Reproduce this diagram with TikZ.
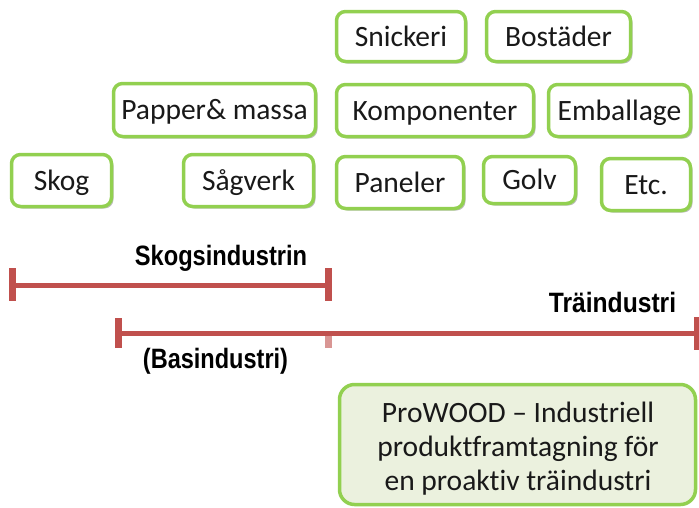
\documentclass[tikz,border=0pt]{standalone}
\usepackage{fontspec}
\setmainfont{Carlito}[Ligatures=NoCommon]
\newfontfamily\labfont{Liberation Sans}
\usetikzlibrary{shadows}
\definecolor{grn}{HTML}{92D050}
\definecolor{redl}{HTML}{C0504D}
\definecolor{pale}{HTML}{EBF1DE}
\begin{document}
\begin{tikzpicture}[x=1pt,y=-1pt,
  box/.style={draw=grn, line width=3.5pt, rounded corners=9pt, fill=white,
    inner sep=0pt, font=\fontsize{29.5}{34}\selectfont, text=black!90,
    text height=19pt, text depth=0pt,
    drop shadow={shadow xshift=2pt,shadow yshift=-2pt,fill=black,opacity=0.25}},
  redline/.style={draw=redl, line width=5pt},
  redbar/.style={draw=redl, line width=7pt},
  lab/.style={anchor=base, inner sep=0pt, font=\fontsize{28}{30}\labfont\bfseries, text=black},
  ptext/.style={anchor=base, inner sep=0pt, font=\fontsize{29.5}{34}\selectfont, text=black!90}]
\useasboundingbox (0,0) rectangle (699,507);
% boxes
\node[box, minimum width=100pt, minimum height=52pt] (skog) at (61.5,180.5) {Skog};
\node[box, minimum width=130pt, minimum height=52pt] (sag) at (248.5,180.5) {Sågverk};
\node[box, minimum width=202pt, minimum height=53pt] (pap) at (214.5,110) {Papper\& massa};
\node[box, minimum width=129pt, minimum height=50pt] (sni) at (401,36.5) {Snickeri};
\node[box, minimum width=144pt, minimum height=50pt] (bos) at (558.5,36.5) {Bostäder};
\node[box, minimum width=197pt, minimum height=52pt] (kom) at (435,110.5) {Komponenter};
\node[box, minimum width=142pt, minimum height=52pt] (emb) at (619.5,110.5) {Emballage};
\node[box, minimum width=127pt, minimum height=52pt] (pan) at (400,182.5) {Paneler};
\node[box, minimum width=92pt, minimum height=47pt] (gol) at (529.5,180) {Golv};
\node[box, minimum width=89pt, minimum height=52pt] (etc) at (646,184.5) {Etc.};
% red lines
\coordinate (a1) at (12,285);
\coordinate (a2) at (328,285);
\coordinate (b1) at (118,333);
\coordinate (b2) at (697,333);
\coordinate (bt) at (328,333);
\draw[redline] (a1) -- (a2);
\draw[redbar] (a1) ++(0,-17) -- ++(0,33);
\draw[redbar] (a2) ++(0,-17) -- ++(0,33);
\draw[redline] (b1) -- (b2);
\draw[redbar] (b1) ++(0,-15) -- ++(0,30);
\draw[redbar] (b2) ++(0,-16) -- ++(0,33);
\draw[redbar, draw opacity=0.6] (bt) -- ++(0,15);
% labels
\node[lab] (skl) at (221,265) {\scalebox{0.845}[1]{Skogsindustrin}};
\node[lab] (bas) at (215.5,368) {\scalebox{0.84}[1]{(Basindustri)}};
\node[lab] (tra) at (612.5,312) {\scalebox{0.88}[1]{Träindustri}};
% ProWOOD box
\node[draw=grn, line width=3.5pt, rounded corners=15pt, fill=pale,
  minimum width=356pt, minimum height=120pt, inner sep=0pt] (pro) at (517.5,444.5) {};
\node[ptext] (p1) at (518,422) {ProWOOD – Industriell};
\node[ptext] (p2) at (518,456) {produktframtagning för};
\node[ptext] (p3) at (518,490) {en proaktiv träindustri};
\end{tikzpicture}
\end{document}
